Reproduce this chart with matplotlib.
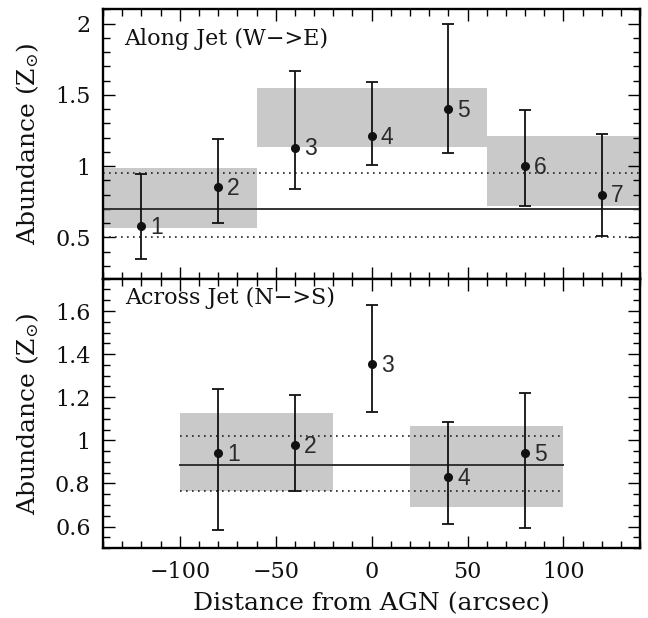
import matplotlib
matplotlib.use("Agg")
import matplotlib.pyplot as plt
from matplotlib.ticker import MultipleLocator, FormatStrFormatter
import numpy as np

# along jet (W->E)
x_along = [-120, -80, -40, 0, 40, 80, 120]
z_along = [0.58, 0.85, 1.13, 1.21, 1.40, 1.00, 0.80]
lo_along = [0.35, 0.60, 0.84, 1.01, 1.09, 0.72, 0.51]
hi_along = [0.945, 1.19, 1.67, 1.59, 2.00, 1.39, 1.225]
box_x_along = [(-140, -60), (-60, 60), (60, 140)]
box_lo_along = [0.565, 1.133, 0.717]
box_hi_along = [0.99, 1.545, 1.208]
mean_along = 0.70
band_along = (0.50, 0.95)

# across jet (N->S)
x_across = [-80, -40, 0, 40, 80]
z_across = [0.943, 0.977, 1.356, 0.83, 0.94]
lo_across = [0.582, 0.766, 1.132, 0.612, 0.594]
hi_across = [1.237, 1.212, 1.628, 1.086, 1.22]
box_x_across = [(-100, -20), (20, 100)]
box_lo_across = [0.765, 0.692]
box_hi_across = [1.125, 1.065]
mean_across = 0.886
band_across = (0.765, 1.02)
span_across = (-100, 100)

plt.rcParams['font.family'] = ['DejaVu Serif']
plt.rcParams['mathtext.fontset'] = 'dejavuserif'

fig = plt.figure(figsize=(6.48, 6.18), dpi=100)
ax1 = fig.add_axes([0.159, 0.549, 0.829, 0.436])
ax2 = fig.add_axes([0.159, 0.113, 0.829, 0.436])

def panel(ax, xs, zs, lo, hi, bx, blo, bhi, mean, band, span):
    for (a, b), l, h in zip(bx, blo, bhi):
        ax.fill_between([a, b], l, h, color='#c9c9c9', lw=0, zorder=1)
    ax.plot(span, [mean, mean], color='#333333', lw=1.4, zorder=2)
    for v in band:
        ax.plot(span, [v, v], color='#222222', lw=1.2, ls=(0, (1, 2.6)), zorder=2)
    zs = np.array(zs)
    yerr = [zs - np.array(lo), np.array(hi) - zs]
    ax.errorbar(xs, zs, yerr=yerr, fmt='o', color='#111111', ms=5.5,
                elinewidth=1.3, capsize=4, capthick=1.3, zorder=3)
    for i, (x, z) in enumerate(zip(xs, zs)):
        ax.annotate(str(i + 1), (x, z), xytext=(6.5, -1), textcoords='offset points',
                    ha='left', va='center', fontsize=16.5, family='Liberation Sans',
                    color='#2a2a2a')
    ax.set_xlim(-140, 140)
    ax.xaxis.set_major_locator(MultipleLocator(50))
    ax.xaxis.set_minor_locator(MultipleLocator(10))
    ax.tick_params(which='both', direction='in', top=True, right=True, width=1)
    ax.tick_params(which='major', length=8.5, labelsize=16, pad=9, labelcolor='#111111')
    ax.tick_params(which='minor', length=5)
    ax.yaxis.set_major_formatter(FormatStrFormatter('%g'))
    for s in ax.spines.values():
        s.set_linewidth(1.7)
    ax.set_ylabel(r'Abundance ($\mathrm{Z}_{\odot}$)', fontsize=18, color='#111111')
    ax.yaxis.set_label_coords(-0.115, 0.5)

panel(ax1, x_along, z_along, lo_along, hi_along, box_x_along, box_lo_along,
      box_hi_along, mean_along, band_along, (-140, 140))
ax1.set_ylim(0.21, 2.1)
ax1.yaxis.set_major_locator(MultipleLocator(0.5))
ax1.yaxis.set_minor_locator(MultipleLocator(0.1))
ax1.tick_params(labelbottom=False)
ax1.text(0.039, 0.866, 'Along Jet (W\u2212>E)', transform=ax1.transAxes,
         fontsize=16, va='baseline', ha='left', color='#111111')

panel(ax2, x_across, z_across, lo_across, hi_across, box_x_across, box_lo_across,
      box_hi_across, mean_across, band_across, span_across)
ax2.set_ylim(0.5, 1.75)
ax2.yaxis.set_major_locator(MultipleLocator(0.2))
ax2.yaxis.set_minor_locator(MultipleLocator(0.05))
ax2.text(0.041, 0.906, 'Across Jet (N\u2212>S)', transform=ax2.transAxes,
         fontsize=16, va='baseline', ha='left', color='#111111')
ax2.set_xlabel('Distance from AGN (arcsec)', fontsize=18, color='#111111')
ax2.xaxis.set_label_coords(0.5, -0.165)

fig.savefig('out.png', dpi=100)
